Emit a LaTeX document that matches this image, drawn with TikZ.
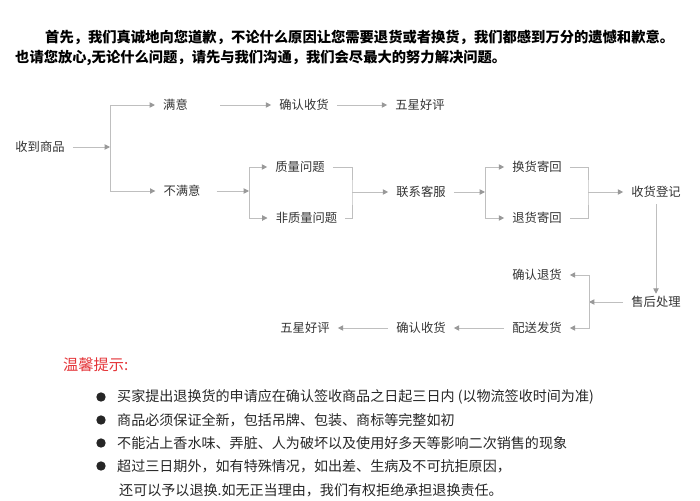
\documentclass[tikz,border=0pt]{standalone}
\usepackage{fontspec}
\newfontfamily\cjk{Noto Sans CJK SC}
\usepackage{xcolor}
\usepackage{tikz}
\usetikzlibrary{arrows.meta}
\definecolor{warmred}{RGB}{228,52,56}

\begin{document}
\begin{tikzpicture}[x=0.03cm,y=-0.03cm,
  every node/.style={font=\cjk},
  stage/.style={font=\cjk\fontsize{10.5}{12}\selectfont, text=black!80, inner xsep=0.24cm, inner ysep=2pt},
  line/.style={anchor=west, inner sep=0pt},
  dot/.style={circle, fill=black!85, inner sep=0pt, minimum size=8pt},
  ln/.style={draw=black!25, line width=0.8pt},
  >={Triangle[length=4.5pt,width=4.5pt,color=black!40]}
]
  \useasboundingbox (0,0) rectangle (700,500);

  % opening words
  \node[line, font=\cjk\bfseries\fontsize{12.2}{14}\selectfont] (hd1) at (45,37)
    {首先，我们真诚地向您道歉，不论什么原因让您需要退货或者换货，我们都感到万分的遗憾和歉意。};
  \node[line, font=\cjk\bfseries\fontsize{12.2}{14}\selectfont] (hd2) at (15,58)
    {也请您放心,无论什么问题，请先与我们沟通，我们会尽最大的努力解决问题。};

  % flow, upper part
  \node[stage] (got)   at (40,147)   {收到商品};
  \node[stage] (sat)   at (175.5,105) {满意};
  \node[stage] (unsat) at (182,191)  {不满意};
  \node[stage] (conf1) at (304,105)  {确认收货};
  \node[stage] (five1) at (420,105)  {五星好评};
  \node[stage] (qual)  at (300,167)  {质量问题};
  \node[stage] (nqual) at (306.5,218) {非质量问题};
  \node[stage] (cs)    at (421,192)  {联系客服};
  \node[stage] (exch)  at (537,167)  {换货寄回};
  \node[stage] (ret)   at (537,218)  {退货寄回};
  \node[stage] (reg)   at (656,192)  {收货登记};

  % flow, lower part
  \node[stage] (after) at (656,302)  {售后处理};
  \node[stage] (cret)  at (537,275)  {确认退货};
  \node[stage] (ship)  at (537,328)  {配送发货};
  \node[stage] (conf2) at (421,328)  {确认收货};
  \node[stage] (five2) at (305,328)  {五星好评};

  \coordinate (j1) at (110,147);
  \coordinate (j2) at (249,191);
  \coordinate (j3) at (352,192);
  \coordinate (j5) at (485,192);
  \coordinate (j6) at (588,192);
  \coordinate (j4) at (589,302);

  \draw[ln,->] (got) -- (j1);
  \draw[ln,->] (j1) |- (sat);
  \draw[ln,->] (j1) |- (unsat);
  \draw[ln,->,shorten <=0.72cm] (sat) -- (conf1);
  \draw[ln,->] (conf1) -- (five1);
  \draw[ln,->,shorten <=0.24cm] (unsat) -- (j2);
  \draw[ln,->] (j2) |- (qual);
  \draw[ln,->] (j2) |- (nqual);
  \draw[ln] (qual) -| (j3) |- (nqual);
  \draw[ln,->] (j3) -- (cs);
  \draw[ln,->] (cs) -- (j5);
  \draw[ln,->] (j5) |- (exch);
  \draw[ln,->] (j5) |- (ret);
  \draw[ln] (exch) -| (j6) |- (ret);
  \draw[ln,->] (j6) -- (reg);
  \draw[ln,->,shorten <=0.12cm] (reg) -- (after);
  \draw[ln,->] (after) -- (j4);
  \draw[ln,->] (j4) |- (cret);
  \draw[ln,->] (j4) |- (ship);
  \draw[ln,->] (ship) -- (conf2);
  \draw[ln,->] (conf2) -- (five2);

  % notes
  \node[line, text=warmred, font=\cjk\fontsize{13}{15}\selectfont] (warm) at (63,365) {温馨提示:};
  \foreach \i/\y/\t in {1/397/{买家提出退换货的申请应在确认签收商品之日起三日内 (以物流签收时间为准)},
                        2/420/{商品必须保证全新，包括吊牌、包装、商标等完整如初},
                        3/443/{不能沾上香水味、弄脏、人为破坏以及使用好多天等影响二次销售的现象},
                        4/466/{超过三日期外，如有特殊情况，如出差、生病及不可抗拒原因，}} {
    \node[dot] (d\i) at (101,\y) {};
    \node[line, text=black!85, font=\cjk\fontsize{12}{14}\selectfont] (n\i) at (117,\y) {\t};
  }
  \node[line, text=black!85, font=\cjk\fontsize{12}{14}\selectfont] (n5) at (119,490)
    {还可以予以退换.如无正当理由，我们有权拒绝承担退换责任。};
\end{tikzpicture}
\end{document}
